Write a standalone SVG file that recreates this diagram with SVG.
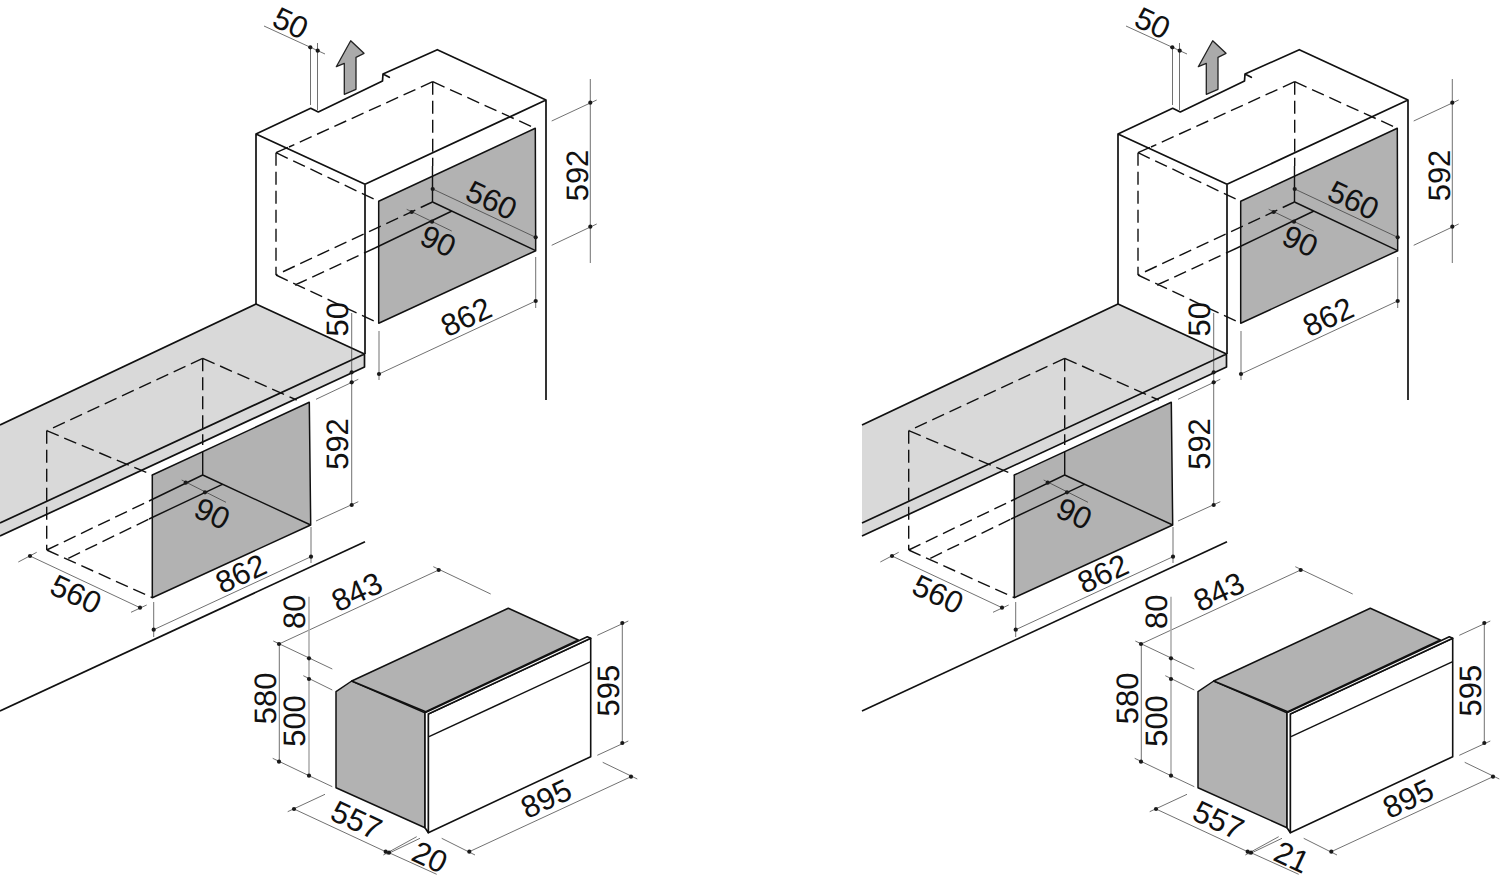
<svg xmlns="http://www.w3.org/2000/svg" width="1500" height="881" viewBox="0 0 1500 881">
<style>
.o{fill:none;stroke:#111;stroke-width:1.7;stroke-linejoin:round}
.s{fill:none;stroke:#111;stroke-width:1.4}
.d{fill:none;stroke:#111;stroke-width:1.4;stroke-dasharray:13 6}
.t{fill:none;stroke:#333;stroke-width:.7}
.g{fill:#b2b2b2;stroke:#111;stroke-width:1.5;stroke-linejoin:round}
.c{fill:#d9d9d9}
.w{fill:#fff;stroke:#111;stroke-width:1.6;stroke-linejoin:round}
.h{fill:none;stroke:#b0b0b0;stroke-width:1.6}
.p{fill:#1a1a1a}
text{font-family:"Liberation Sans",Arial,sans-serif;font-size:31px;fill:#111;text-anchor:middle;text-rendering:geometricPrecision}
</style>
<defs>
<g id="drawing">
<polygon class="c" points="0,425 256,304 364.5,354 364.5,367 0,536"/>
<path class="o" d="M0,425L256,304 364.5,354 0,523M0,536L364.5,367V354"/>
<path class="o" d="M256,304V134L310.7,108.3 318.3,112 382.5,81 383,74 389.3,77.3 383,74 437.3,49.7 546,100V400M256,134L365,184.3V354M365,184.3L546,100"/>
<polygon class="g" points="378.7,201.3 535.3,128.3 535.7,250.7 378.7,323.3"/>
<path class="s" d="M432.5,202L535.7,250.7M432.5,202V166M452,211L375,248"/>
<path class="d" d="M432.7,81.7V166M432.7,81.7L289,147M432.7,81.7L535.3,128.3M276,152.7L378.7,201.3M276,152.7L289,147M276,152.7V275M276,275L378.7,323.3M432.5,202L276,275M295,285L375,248"/>
<polygon class="g" points="152.3,475 309.3,402.3 310.7,525 152.3,597.7"/>
<path class="s" d="M202.7,475L310.7,525M202.7,475V452M202.7,475L149,501M222.3,484.3L149,519"/>
<path class="d" d="M202.7,358.3V445M202.7,358.3L46.7,430.7M202.7,358.3L296.7,400M46.7,430.7L152.3,475M46.7,430.7V550M46.7,550L152.3,597.7M46.7,550L149,501M68.3,558.3L149,519"/>
<path class="o" d="M0,711L365,541.7"/>
<polygon points="350.7,40.7 364,53.3 356,57.3 356,89.3 344.3,94.3 344.3,63.3 336.3,66.7" fill="#aaa" stroke="#222" stroke-width="1.3" stroke-linejoin="round"/>
<polygon class="g" points="336,691.7 351.7,681 425,712.7 425,827.7 336,787.7"/>
<polygon class="g" points="351.7,681 508.3,608.3 578.3,640 425.7,711.7"/>
<polygon class="w" points="428.3,714 590.7,638.3 590.7,756.7 428.3,832.7"/>
<polygon class="w" points="425,712.7 587.3,636.7 590.7,638.3 428.3,714 428.3,832.7 425,827.7"/>
<path class="s" d="M429,736.7L590.7,661.7"/>
<path class="t" d="M264,26L325,54M310.5,47V105M317.5,43V110M551.7,121L596.7,100M551.7,245.3L596.7,224M590.3,79V263M432.7,189L535.7,237.3M406.7,209.3L451.7,231M535.7,257V308M379,331V380M535.7,301L379,374M351.7,313V505M316,399.3L358.3,379.3M316,521L358.3,501.7M181.7,480L226,502.3M18.3,562L36.7,552.3M131,612.3L146.7,605M30,556L140,607.7M311,527V563M153.7,602V637M311,556.7L153.7,629.7"/>
<path class="t" d="M279,644L438.7,570M433.3,566.7L490.7,594M273.3,641L332.3,669M303.3,675.7L332.3,690M309,775.7L332.3,786.7M279.3,644V761.7M272.7,758.3L309,775.7M597.3,635.3L628.3,621M597.3,755.3L628.3,741M622.3,623V743M631,776.7L469.3,851.7M602.7,762.3L637.3,779M441.7,838.3L475,855M294,809L385.7,851.7M287.7,811.7L325,794.3M383.3,855L416.7,836.7M386.7,854.3L420,838.3M389,852.7L436.7,874.3"/>
<path class="h" d="M309,596.7V775.7"/>
<g class="p">
<circle cx="310.3" cy="47.3" r="2.1"/><circle cx="317.7" cy="50.7" r="2.1"/><circle cx="590.3" cy="102.7" r="2.1"/><circle cx="590.3" cy="226.7" r="2.1"/><circle cx="432.7" cy="189" r="2.1"/><circle cx="535.7" cy="237.3" r="2.1"/><circle cx="411.7" cy="212" r="2.1"/><circle cx="432" cy="221.7" r="2.1"/><circle cx="535.7" cy="301" r="2.1"/><circle cx="379" cy="374" r="2.1"/><circle cx="351.7" cy="372.3" r="2.1"/><circle cx="351.7" cy="382.3" r="2.1"/><circle cx="351.7" cy="505" r="2.1"/><circle cx="185.7" cy="482.7" r="2.1"/><circle cx="205" cy="492.3" r="2.1"/><circle cx="30" cy="556" r="2.1"/><circle cx="140" cy="607.7" r="2.1"/><circle cx="311" cy="556.7" r="2.1"/><circle cx="153.7" cy="629.7" r="2.1"/><circle cx="279" cy="644" r="2.1"/><circle cx="438.7" cy="570" r="2.1"/><circle cx="309" cy="658.3" r="2.1"/><circle cx="309" cy="679" r="2.1"/><circle cx="309" cy="775.7" r="2.1"/><circle cx="279" cy="761.7" r="2.1"/><circle cx="622.3" cy="623" r="2.1"/><circle cx="622.3" cy="743" r="2.1"/><circle cx="631" cy="776.7" r="2.1"/><circle cx="469.3" cy="851.7" r="2.1"/><circle cx="294" cy="809" r="2.1"/><circle cx="385.7" cy="851.7" r="2.1"/><circle cx="389" cy="852.7" r="2.1"/>
</g>
</g>
</defs>
<g id="left-unit">
<use href="#drawing"/>
<g id="left-labels">
<text transform="translate(290.7,22.7) rotate(25)" y="11">50</text>
<text transform="translate(576.7,175.5) rotate(-90)" y="11">592</text>
<text transform="translate(491.7,200) rotate(25)" y="11">560</text>
<text transform="translate(438.3,240.7) rotate(25)" y="11">90</text>
<text transform="translate(466,316.7) rotate(-25)" y="11">862</text>
<text transform="translate(337.3,319.3) rotate(-90)" y="11">50</text>
<text transform="translate(336.7,444) rotate(-90)" y="11">592</text>
<text transform="translate(212.3,513.3) rotate(25)" y="11">90</text>
<text transform="translate(76,594) rotate(25)" y="11">560</text>
<text transform="translate(240.7,573.3) rotate(-25)" y="11">862</text>
<text transform="translate(356.7,591.7) rotate(-25)" y="11">843</text>
<text transform="translate(294.3,611.7) rotate(-90)" y="11">80</text>
<text transform="translate(265,698.3) rotate(-90)" y="11">580</text>
<text transform="translate(294.3,721) rotate(-90)" y="11">500</text>
<text transform="translate(608.3,690.7) rotate(-90)" y="11">595</text>
<text transform="translate(546,798.3) rotate(-25)" y="11">895</text>
<text transform="translate(356.7,820) rotate(25)" y="11">557</text>
<text transform="translate(430,856.7) rotate(25)" y="11">20</text>
</g>
</g>
<g id="right-unit" transform="translate(862,0)">
<use href="#drawing"/>
<g id="right-labels">
<text transform="translate(290.7,22.7) rotate(25)" y="11">50</text>
<text transform="translate(576.7,175.5) rotate(-90)" y="11">592</text>
<text transform="translate(491.7,200) rotate(25)" y="11">560</text>
<text transform="translate(438.3,240.7) rotate(25)" y="11">90</text>
<text transform="translate(466,316.7) rotate(-25)" y="11">862</text>
<text transform="translate(337.3,319.3) rotate(-90)" y="11">50</text>
<text transform="translate(336.7,444) rotate(-90)" y="11">592</text>
<text transform="translate(212.3,513.3) rotate(25)" y="11">90</text>
<text transform="translate(76,594) rotate(25)" y="11">560</text>
<text transform="translate(240.7,573.3) rotate(-25)" y="11">862</text>
<text transform="translate(356.7,591.7) rotate(-25)" y="11">843</text>
<text transform="translate(294.3,611.7) rotate(-90)" y="11">80</text>
<text transform="translate(265,698.3) rotate(-90)" y="11">580</text>
<text transform="translate(294.3,721) rotate(-90)" y="11">500</text>
<text transform="translate(608.3,690.7) rotate(-90)" y="11">595</text>
<text transform="translate(546,798.3) rotate(-25)" y="11">895</text>
<text transform="translate(356.7,820) rotate(25)" y="11">557</text>
<text transform="translate(430,856.7) rotate(25)" y="11">21</text>
</g>
</g>
</svg>
